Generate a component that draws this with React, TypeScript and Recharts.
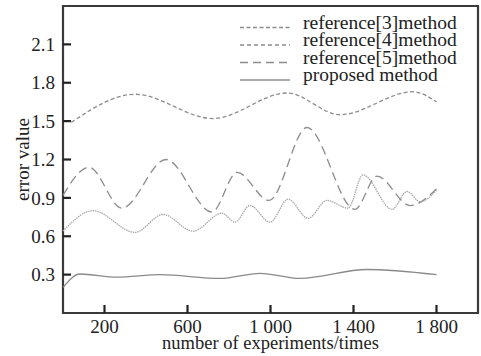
import React from 'react';
import { LineChart, Line, XAxis, YAxis, ReferenceArea, Legend } from 'recharts';

// x positions (number of experiments) and error values
const ref3X = [40, 347, 723, 1080, 1335, 1687, 1800];
const ref3Y = [1.49, 1.71, 1.52, 1.72, 1.55, 1.73, 1.65];

const ref4X = [0, 145, 347, 482, 627, 766, 829, 901, 998, 1085, 1181, 1272, 1374, 1446, 1586, 1658, 1721, 1800];
const ref4Y = [0.64, 0.8, 0.63, 0.77, 0.64, 0.78, 0.71, 0.84, 0.71, 0.89, 0.74, 0.88, 0.82, 1.08, 0.81, 0.95, 0.87, 0.96];

const ref5X = [0, 125, 284, 496, 718, 839, 993, 1176, 1407, 1513, 1673, 1800];
const ref5Y = [0.92, 1.14, 0.82, 1.2, 0.79, 1.1, 0.88, 1.45, 0.81, 1.07, 0.84, 0.97];

const propX = [0, 82, 260, 468, 757, 950, 1142, 1465, 1800];
const propY = [0.2, 0.305, 0.28, 0.3, 0.27, 0.31, 0.27, 0.34, 0.3];

const xTicks = [200, 600, 1000, 1400, 1800];
const yTicks = [0.3, 0.6, 0.9, 1.2, 1.5, 1.8, 2.1];

const legendNames = ['reference[3]method', 'reference[4]method', 'reference[5]method', 'proposed method'];

const toPoints = (xs: number[], ys: number[]) => xs.map((x, i) => ({ x, y: ys[i] }));

const ref3 = toPoints(ref3X, ref3Y);
const ref4 = toPoints(ref4X, ref4Y);
const ref5 = toPoints(ref5X, ref5Y);
const proposed = toPoints(propX, propY);

const FONT = '"Liberation Serif", "Times New Roman", serif';
const FS = 19;
const X_MARGIN = 7;
const Y_MARGIN = 8;

const fmtX = (v: number) => (v >= 1000 ? `${Math.floor(v / 1000)} ${String(v % 1000).padStart(3, '0')}` : String(v));

const YTick = (props: any) => {
  const { x, y, payload } = props;
  const ax = x + Y_MARGIN;
  return (
    <g>
      <line x1={ax} x2={ax + 8} y1={y} y2={y} stroke="#222" strokeWidth={2.2} />
      <text x={x} y={y} dy="0.355em" textAnchor="end" fontSize={FS} fill="#222" fontFamily={FONT}>
        {payload.value.toFixed(1)}
      </text>
    </g>
  );
};

const XTick = (props: any) => {
  const { x, y, payload } = props;
  const ay = y - X_MARGIN;
  return (
    <g>
      <line x1={x} x2={x} y1={ay} y2={ay - 8} stroke="#222" strokeWidth={2.2} />
      <text x={x} y={y} dy="0.71em" textAnchor="middle" fontSize={FS} fill="#222" fontFamily={FONT}>
        {fmtX(payload.value)}
      </text>
    </g>
  );
};

const legendDash = ['4 2.5', '4 3', '8 5', undefined];

const LegendBox = () => (
  <svg width={240} height={86}>
    {legendNames.map((name, i) => (
      <g key={name}>
        <line x1={2} x2={52} y1={19.5 + i * 17.5} y2={19.5 + i * 17.5} stroke="#8c8c8c" strokeWidth={1.3} strokeDasharray={legendDash[i]} />
        <text x={65} y={20.5 + i * 17.5} fontSize={19.5} fill="#222" fontFamily={FONT}>
          {name}
        </text>
      </g>
    ))}
  </svg>
);

export default function App() {
  return (
    <div style={{ position: 'absolute', left: 0, top: 0, fontFamily: FONT }}>
      <LineChart width={481} height={356} margin={{ top: 6, right: 3, left: 0, bottom: 0 }}>
        <XAxis
          type="number"
          dataKey="x"
          domain={[0, 2000]}
          ticks={xTicks}
          height={43}
          axisLine={false}
          tickLine={false}
          tickSize={0}
          tickMargin={X_MARGIN}
          tick={<XTick />}
          label={{ value: 'number of experiments/times', position: 'insideBottom', offset: 7, fontSize: 18.5, fill: '#222' }}
        />
        <YAxis
          type="number"
          domain={[0, 2.4]}
          ticks={yTicks}
          width={63}
          axisLine={false}
          tickLine={false}
          tickSize={0}
          tickMargin={Y_MARGIN}
          tick={<YTick />}
          label={{ value: 'error value', angle: -90, position: 'insideLeft', offset: 22, fontSize: FS, fill: '#222', style: { textAnchor: 'middle' } }}
        />
        <Line data={ref3} dataKey="y" type="monotone" stroke="#8c8c8c" strokeWidth={1.3} strokeDasharray="4 2.5" dot={false} isAnimationActive={false} />
        <Line data={ref4} dataKey="y" type="monotone" stroke="#a8a8a8" strokeWidth={1.3} strokeDasharray="1.5 0.8" dot={false} isAnimationActive={false} />
        <Line data={ref5} dataKey="y" type="monotone" stroke="#8c8c8c" strokeWidth={1.3} strokeDasharray="9 5" dot={false} isAnimationActive={false} />
        <Line data={proposed} dataKey="y" type="monotone" stroke="#8a8a8a" strokeWidth={1.3} dot={false} isAnimationActive={false} />
        <ReferenceArea x1={0} x2={2000} y1={0} y2={2.4} fill="none" fillOpacity={0} stroke="#3a3a3a" strokeWidth={2.2} />
        <Legend
          layout="vertical"
          align="center"
          verticalAlign="middle"
          content={<LegendBox />}
          wrapperStyle={{ position: 'absolute', left: 238, top: 8, width: 240, height: 86 }}
        />
      </LineChart>
    </div>
  );
}
